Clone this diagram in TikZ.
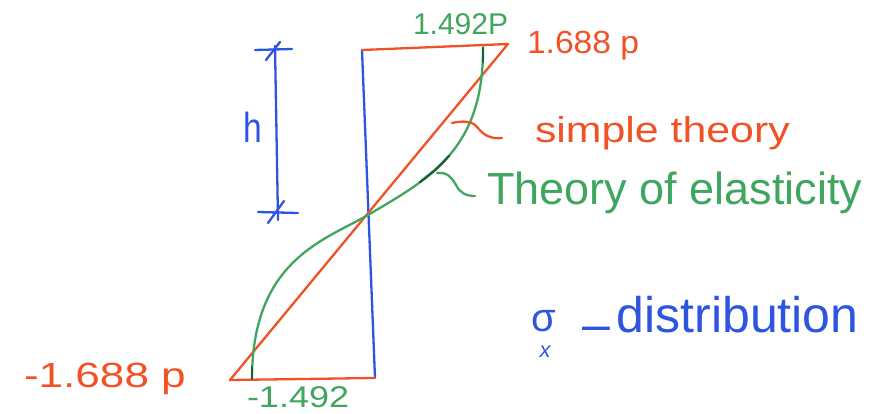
\documentclass[tikz,border=0pt]{standalone}
\usepackage{fontspec}
\setmainfont{Liberation Sans}
\definecolor{ora}{RGB}{240,82,38}
\definecolor{grn}{RGB}{64,165,95}
\definecolor{dgrn}{RGB}{30,95,50}
\definecolor{blu}{RGB}{45,85,225}
\begin{document}
\begin{tikzpicture}[x=1pt,y=-1pt,
  stroke/.style={line width=2.3pt,line cap=round,line join=round},
  lbl/.style={inner sep=0pt,outer sep=0pt},
  fs/.style={font=\fontsize{#1}{#1}\selectfont}]
\useasboundingbox (0,0) rectangle (879,414);
% corners
\coordinate (TL) at (362,50);
\coordinate (BR) at (375,378);
\coordinate (TR) at (508,44);
\coordinate (BL) at (230,380);
\coordinate (C) at (368,215);
\coordinate (GT) at (483,47);
\coordinate (GB) at (252,379);
% blue axis
\draw[stroke,blu] (TL) -- (BR);
% orange simple theory
\draw[stroke,ora] (TL) -- (TR) -- (BL) -- (BR);
% green theory of elasticity
\draw[stroke,grn] (GT) .. controls (484,150) and (429,179) .. (C)
                       .. controls (325,240) and (252,260) .. (GB);
\draw[stroke,dgrn] plot[smooth] coordinates {(449,156) (435,170) (420,182)};
\draw[stroke,dgrn] (483,48) -- (483,62);
\draw[stroke,dgrn] (252,367) -- (252,379);
% h dimension
\coordinate (HT) at (275,46);
\coordinate (HB) at (278,220);
\draw[stroke,blu] (HT) -- (HB);
\draw[stroke,blu] (255,50) -- (292,49);
\draw[stroke,blu] (266,60) -- (280,42);
\draw[stroke,blu] (258,212) -- (298,213);
\draw[stroke,blu] (268,223) -- (284,201);
\node[lbl,fs=42,blu,anchor=base west,xscale=0.8,transform shape] (h) at (243,143) {h};
% leader squiggles
\coordinate (S1) at (452,123);
\coordinate (S2) at (502,138);
\draw[stroke,ora] (S1) .. controls (462,121) and (472,120) .. (478,128) .. controls (484,136) and (492,139) .. (S2);
\coordinate (E1) at (437,173);
\coordinate (E2) at (475,196);
\draw[stroke,grn] (E1) .. controls (448,172) and (452,178) .. (456,185) .. controls (460,193) and (466,196) .. (E2);
% labels
\node[lbl,fs=30,grn,anchor=base west] (t1492) at (413,35) {1.492P};
\node[lbl,fs=32,ora,anchor=base west,xscale=1.05,transform shape] (t1688) at (527,54) {1.688 p};
\node[lbl,fs=35,ora,anchor=base west,xscale=1.26,transform shape] (m1688) at (24,387) {-1.688 p};
\node[lbl,fs=30,grn,anchor=base west,xscale=1.2,transform shape] (m1492) at (247,407) {-1.492};
\node[lbl,fs=36,ora,anchor=base west,xscale=1.19,transform shape] (simple) at (535,143) {simple theory};
\node[lbl,fs=45,grn,anchor=base west] (elast) at (487,205) {Theory of elasticity};
\node[lbl,fs=40,blu,anchor=base] (sigma) at (544,332) {σ};
\node[lbl,fs=22,blu,anchor=base] (sx) at (545,357) {\itshape x};
\node[lbl,fs=50,blu,anchor=base west] (dist) at (582,333) {\raisebox{-9pt}{–}\kern7pt distribution};
\end{tikzpicture}
\end{document}
